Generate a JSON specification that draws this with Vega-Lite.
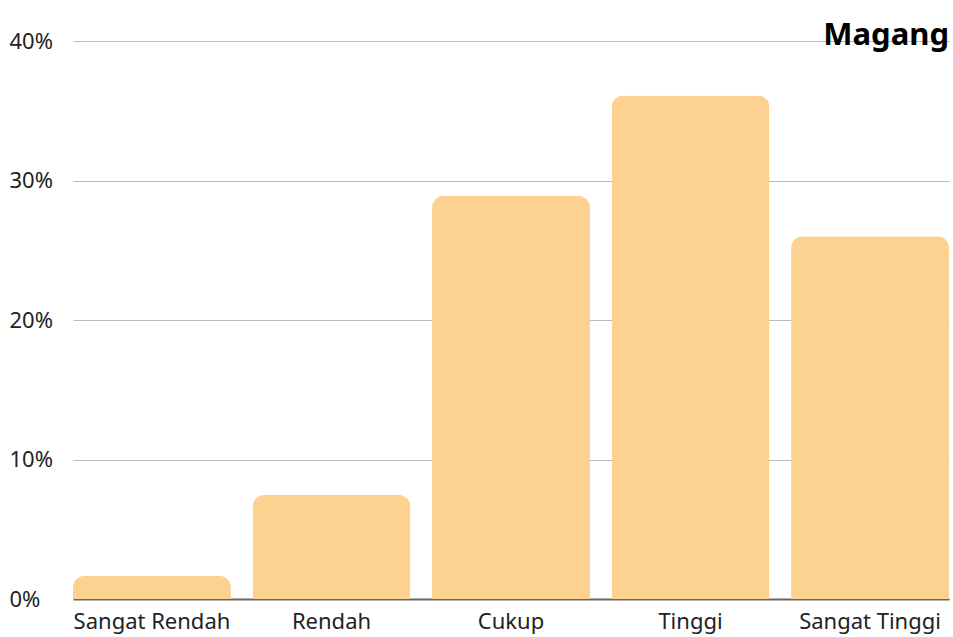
{
  "$schema": "https://vega.github.io/schema/vega-lite/v6.json",
  "autosize": {"type": "none"},
  "width": 876,
  "height": 558,
  "padding": {"left": 73, "top": 41, "right": 4, "bottom": 38},
  "background": "white",
  "title": {"text": "Magang", "anchor": "end", "fontSize": 31, "fontWeight": "bold", "font": "Noto Sans", "color": "#000000", "baseline": "alphabetic", "offset": -3, "dy": 43},
  "data": {"values": [
    {"kategori": "Sangat Rendah", "persen": 0.0165},
    {"kategori": "Rendah", "persen": 0.0745},
    {"kategori": "Cukup", "persen": 0.289},
    {"kategori": "Tinggi", "persen": 0.361},
    {"kategori": "Sangat Tinggi", "persen": 0.26}
  ]},
  "mark": {"type": "bar", "color": "#FDD291", "cornerRadiusTopLeft": 12, "cornerRadiusTopRight": 12},
  "encoding": {
    "x": {"field": "kategori", "type": "nominal", "sort": null, "title": null,
      "scale": {"paddingInner": 0.12, "paddingOuter": 0},
      "axis": {"labelAngle": 0, "labelFont": "Noto Sans", "labelFontSize": 22, "labelColor": "#222222", "ticks": false, "labelPadding": 12, "domainColor": "#666666", "domainWidth": 2, "labelOverlap": false}},
    "y": {"field": "persen", "type": "quantitative", "title": null,
      "scale": {"domain": [0, 0.4]},
      "axis": {"format": ".0%", "values": [0, 0.1, 0.2, 0.3, 0.4], "labelOverlap": false, "domain": false, "ticks": false, "labelAlign": "left", "labelPadding": 64, "labelFont": "Noto Sans", "labelFontSize": 22, "labelColor": "#222222", "gridColor": "#BBBBBB", "gridWidth": 1}}
  },
  "config": {"view": {"stroke": null}}
}
